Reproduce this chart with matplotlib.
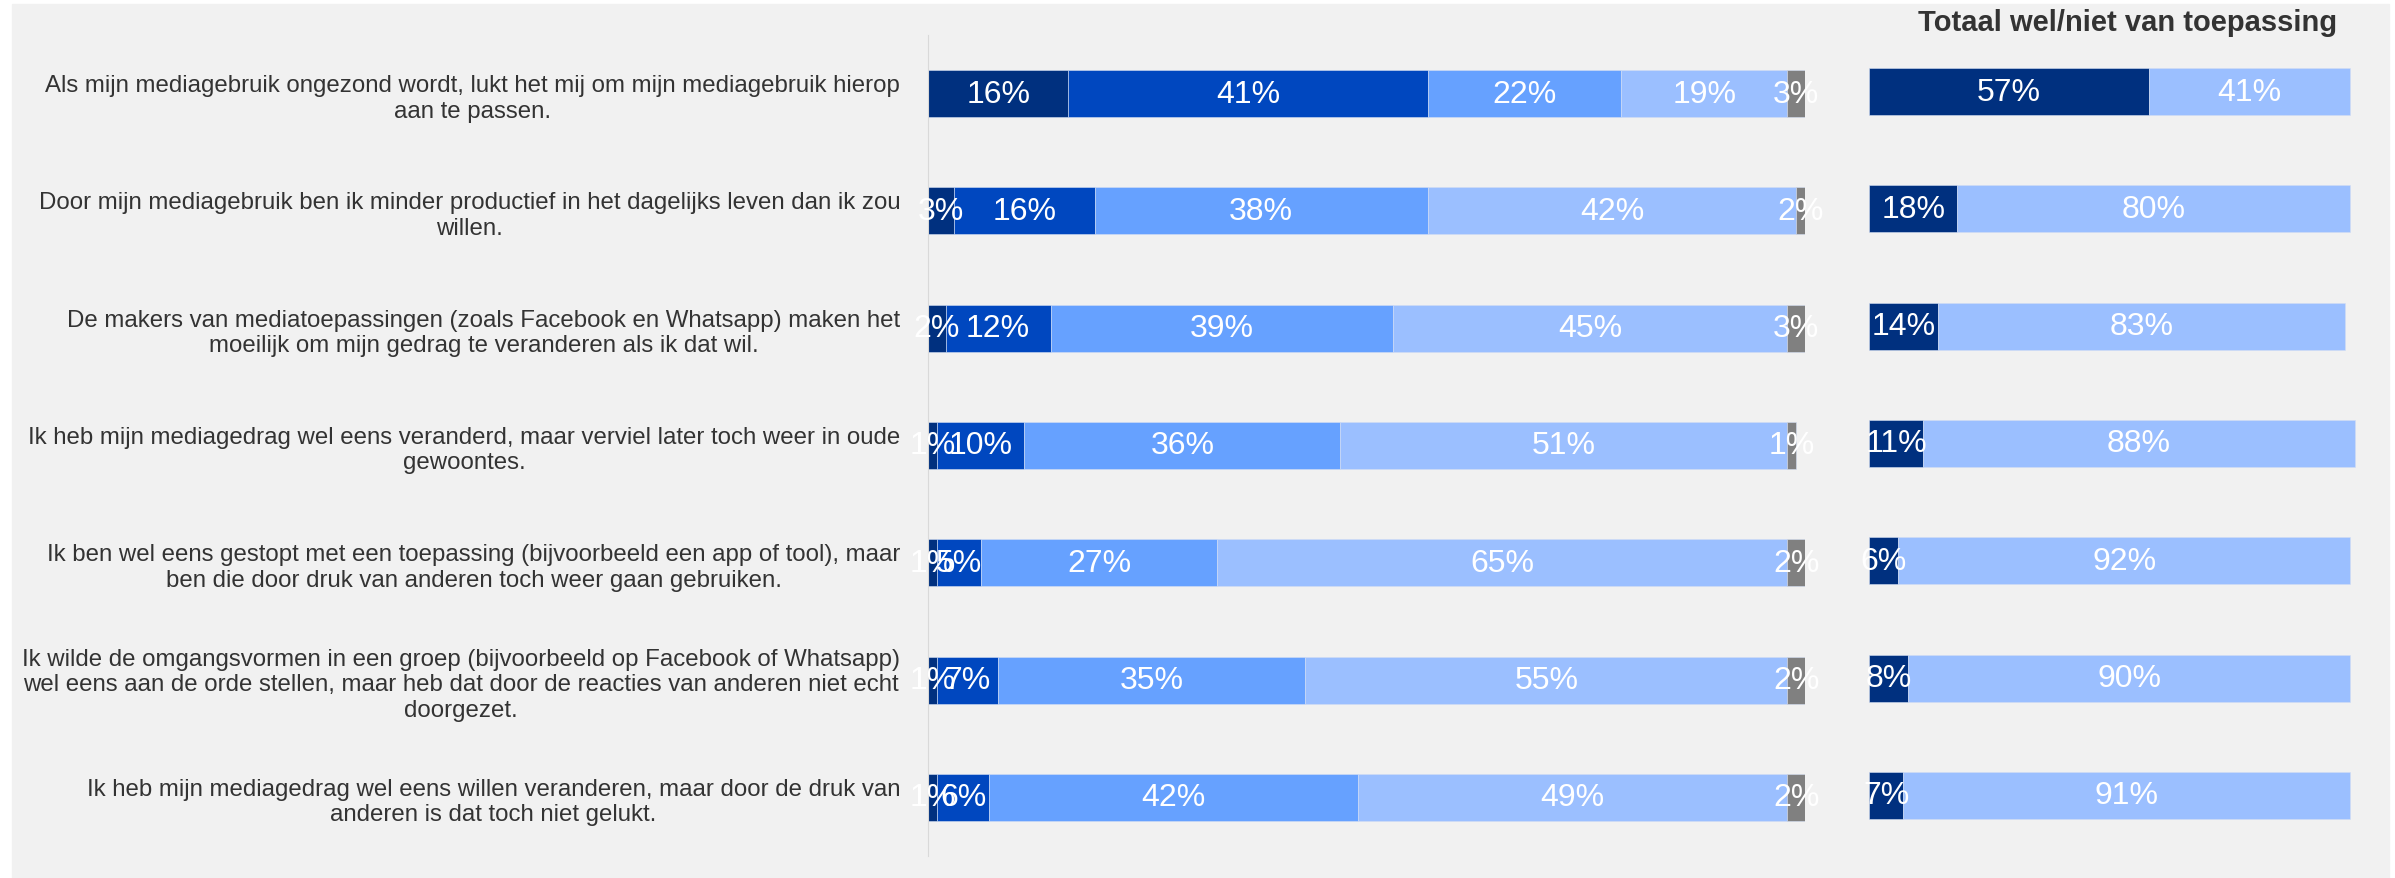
import matplotlib.pyplot as plt
from matplotlib.patches import Rectangle
import numpy as np

plt.rcParams['font.family'] = ['Liberation Sans', 'DejaVu Sans']

# Stellingen (van boven naar beneden)
stellingen = [
    "Als mijn mediagebruik ongezond wordt, lukt het mij om mijn mediagebruik hierop\naan te passen.",
    "Door mijn mediagebruik ben ik minder productief in het dagelijks leven dan ik zou\nwillen.",
    "De makers van mediatoepassingen (zoals Facebook en Whatsapp) maken het\nmoeilijk om mijn gedrag te veranderen als ik dat wil.",
    "Ik heb mijn mediagedrag wel eens veranderd, maar verviel later toch weer in oude\ngewoontes.",
    "Ik ben wel eens gestopt met een toepassing (bijvoorbeeld een app of tool), maar\nben die door druk van anderen toch weer gaan gebruiken.",
    "Ik wilde de omgangsvormen in een groep (bijvoorbeeld op Facebook of Whatsapp)\nwel eens aan de orde stellen, maar heb dat door de reacties van anderen niet echt\ndoorgezet.",
    "Ik heb mijn mediagedrag wel eens willen veranderen, maar door de druk van\nanderen is dat toch niet gelukt.",
]

# Antwoordverdeling in procenten
helemaal_wel = [16, 3, 2, 1, 1, 1, 1]
wel = [41, 16, 12, 10, 5, 7, 6]
niet = [22, 38, 39, 36, 27, 35, 42]
helemaal_niet = [19, 42, 45, 51, 65, 55, 49]
weet_niet = [3, 2, 3, 1, 2, 2, 2]

# Totalen wel/niet van toepassing
totaal_wel = [57, 18, 14, 11, 6, 8, 7]
totaal_niet = [41, 80, 83, 88, 92, 90, 91]

KLEUREN = ['#00307f', '#0047bf', '#66a1ff', '#9bbfff', '#808080']
TEKST_KLEUR = '#333333'
W, H = 2395, 879


def gestapeld(ax, reeksen, kleuren):
    y = np.arange(len(stellingen))
    links = np.zeros(len(stellingen))
    for waarden, kleur in zip(reeksen, kleuren):
        waarden = np.array(waarden, dtype=float)
        bars = ax.barh(y, waarden, left=links, height=0.4, color=kleur,
                       edgecolor='#d3def3', linewidth=0.4)
        ax.bar_label(bars, labels=[f'{v:.0f}%' for v in waarden],
                     label_type='center', color='white', fontsize=23)
        links += waarden
    ax.set_ylim(len(stellingen) - 0.5, -0.5)
    ax.set_xlim(0, 100)
    ax.set_facecolor('none')
    for s in ax.spines.values():
        s.set_visible(False)
    ax.set_xticks([])


def main():
    fig = plt.figure(figsize=(W / 100, H / 100), dpi=100, facecolor='white')
    # grijs achtergrondvlak
    fig.patches.append(Rectangle((12 / W, 0), (2389 - 12) / W, 1 - 5 / H,
                                 transform=fig.transFigure, color='#f1f1f1',
                                 zorder=-10))

    ax = fig.add_axes([928 / W, (H - 857) / H, 877 / W, 821 / H])
    gestapeld(ax, [helemaal_wel, wel, niet, helemaal_niet, weet_niet], KLEUREN)
    ax.spines['left'].set_visible(True)
    ax.spines['left'].set_color('#d9d9d9')
    ax.set_yticks(np.arange(len(stellingen)))
    ax.set_yticklabels(stellingen, fontsize=17.3, color=TEKST_KLEUR,
                       multialignment='center')
    ax.tick_params(axis='y', length=0, pad=20)

    ax2 = fig.add_axes([1869 / W, (H - 855) / H, 491 / W, 821 / H])
    gestapeld(ax2, [totaal_wel, totaal_niet], [KLEUREN[0], KLEUREN[3]])
    ax2.set_yticks([])

    fig.text(2128 / W, 1 - 23 / H, 'Totaal wel/niet van toepassing',
             ha='center', va='center', fontsize=21, fontweight='bold',
             color=TEKST_KLEUR)

    fig.savefig('out.png', dpi=100)


if __name__ == "__main__":
    main()
